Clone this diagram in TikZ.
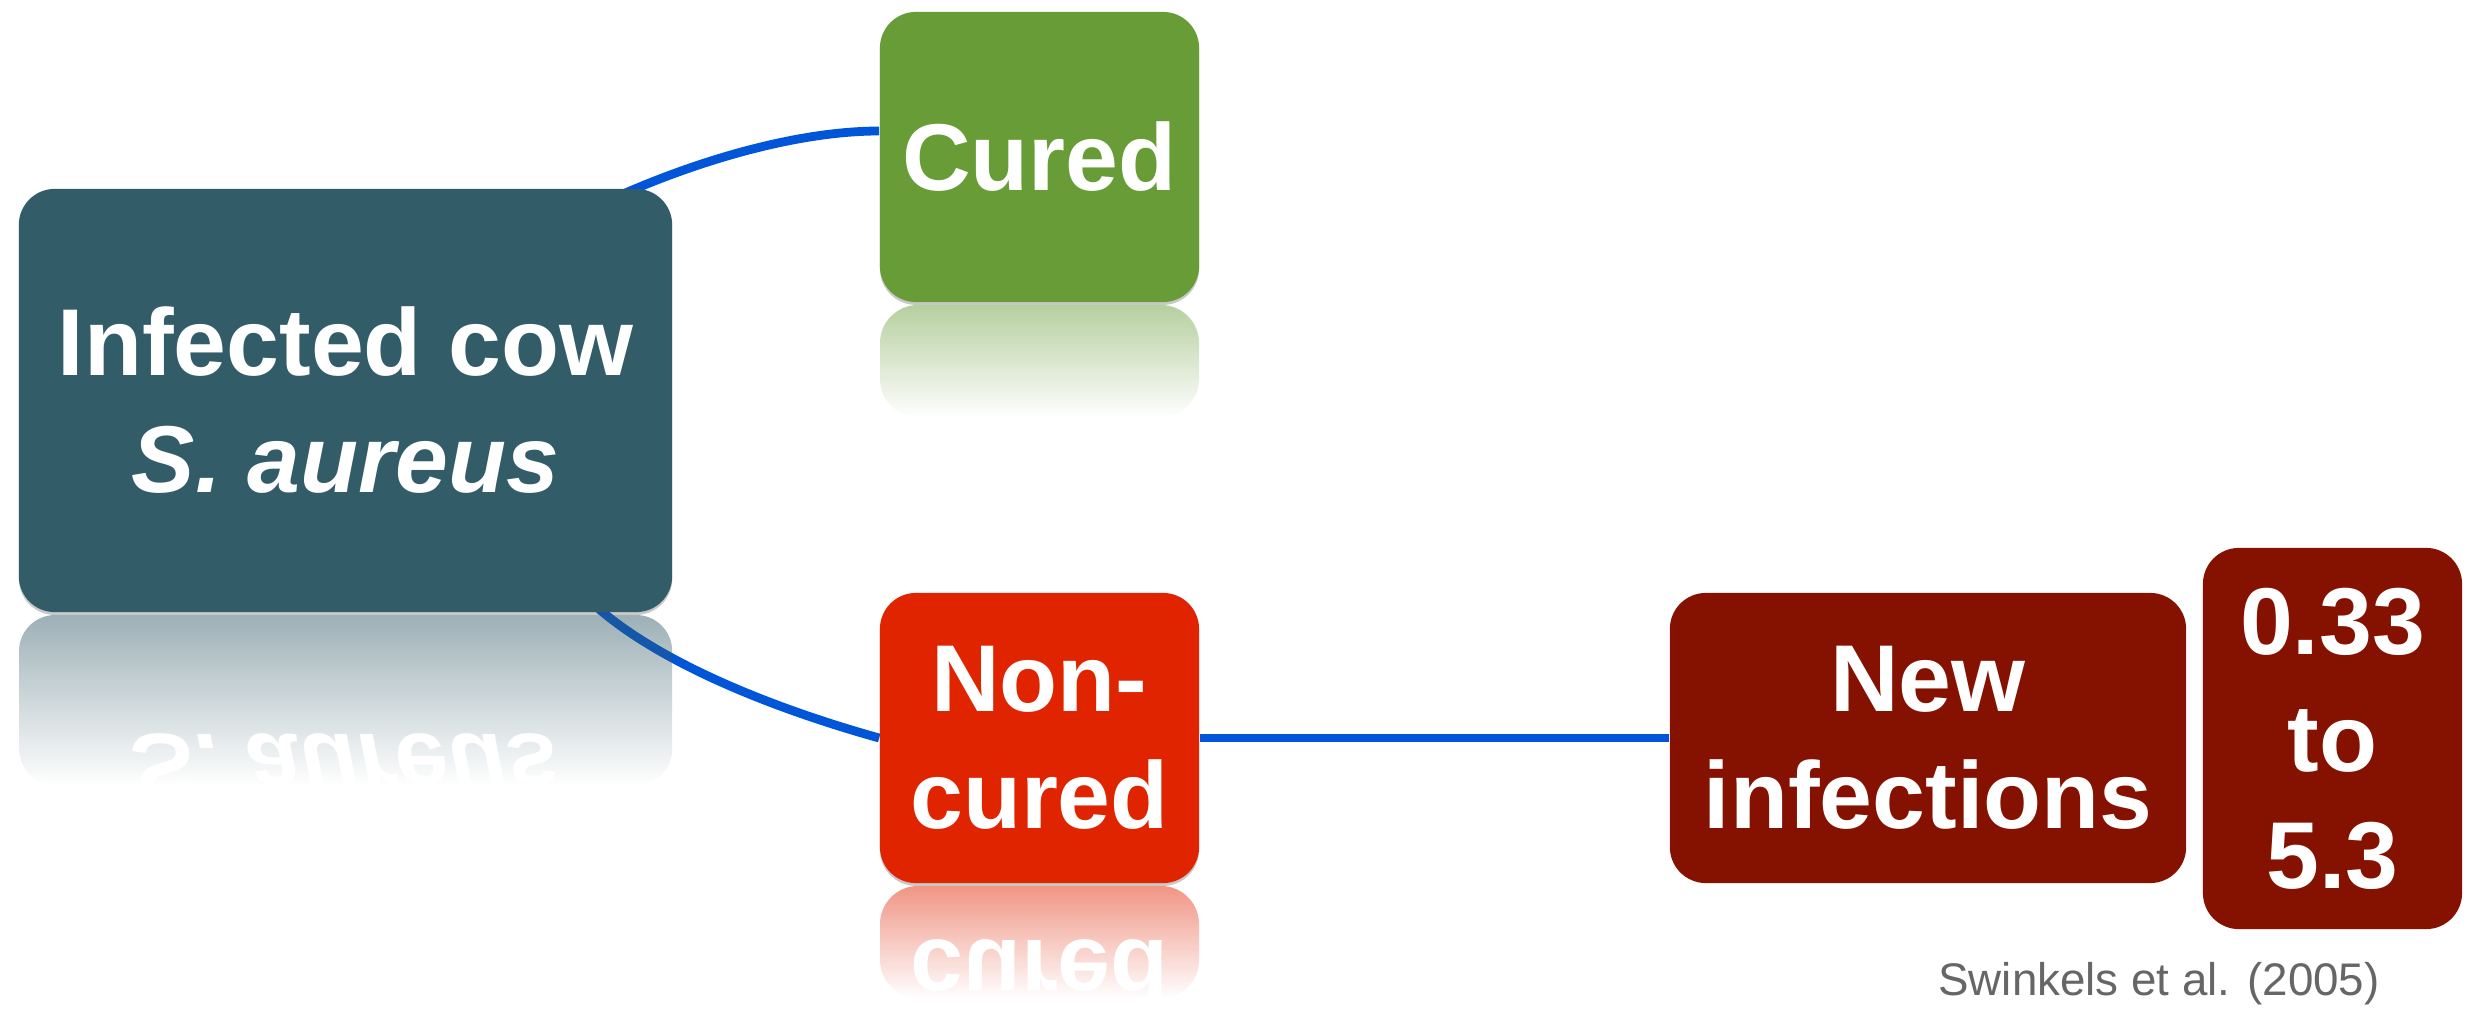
\documentclass[tikz,border=0pt]{standalone}
\usepackage{fontspec}
\setmainfont{Liberation Sans}
\usetikzlibrary{fadings,shadows,backgrounds}
\definecolor{cowc}{HTML}{335C69}
\definecolor{curedc}{HTML}{679C37}
\definecolor{noncuredc}{HTML}{E12400}
\definecolor{newc}{HTML}{851100}
\definecolor{linkc}{HTML}{0055D8}
\definecolor{citec}{HTML}{666666}
\tikzfading[name=reflfade, top color=transparent!52, bottom color=transparent!100]
\tikzset{
  boxtext/.style={inner sep=0pt, align=center, text=white,
    font=\bfseries\fontsize{27}{33.3}\selectfont},
  box/.style={boxtext, rounded corners=0.36cm},
  shadowed/.style={drop shadow={shadow xshift=0pt, shadow yshift=-0.8pt, opacity=0.3, fill=black!70}},
  link/.style={draw=linkc, line width=2.5pt},
}
\begin{document}
\begin{tikzpicture}[x=0.01cm, y=-0.01cm]
\useasboundingbox (0,0) rectangle (2474,1009);
% main boxes
\node[box, shadowed, fill=cowc, minimum width=6.53cm, minimum height=4.23cm] (infected) at (345.5,400.5) {Infected cow\\\textit{S. aureus}};
\node[box, shadowed, fill=curedc, minimum width=3.19cm, minimum height=2.9cm] (cured) at (1039.5,157) {Cured};
\node[box, shadowed, fill=noncuredc, minimum width=3.19cm, minimum height=2.9cm] (noncured) at (1039.5,738) {Non-\\cured};
\node[box, fill=newc, minimum width=5.16cm, minimum height=2.9cm] (newinf) at (1928,738) {New\\infections};
\node[box, fill=newc, minimum width=2.59cm, minimum height=3.81cm] (value) at (2332.5,738.5) {0.33\\to\\5.3};
\node[anchor=base, text=citec, font=\fontsize{13}{15}\selectfont, inner sep=0pt] (cite) at (2159,995) {Swinkels et al. (2005)};
\begin{pgfonlayer}{background}
\fill[white] (0,0) rectangle (2474,1009);
% connectors
\draw[link] ([shift={(-57,9)}]infected.north east) .. controls +(85,-38) and +(-80,0) .. ([shift={(0,-26)}]cured.west);
\draw[link] ([shift={(-82,-11)}]infected.south east) .. controls +(70,65) and +(-90,-25) .. (noncured.west);
\draw[link] (noncured.east) -- (newinf.west);
% reflections
\begin{scope}
  \clip (19,615) rectangle (672,785);
  \fill[cowc, path fading=reflfade, rounded corners=0.36cm] (19,785) -- (19,615) -- (672,615) -- (672,785) -- cycle;
  \node[boxtext, yscale=-1, transform shape, minimum width=6.53cm, minimum height=4.23cm] (infectedR) at (345.5,826.5) {Infected cow\\\textit{S. aureus}};
\end{scope}
\begin{scope}
  \clip (880,305) rectangle (1199,417);
  \fill[curedc, path fading=reflfade, rounded corners=0.38cm] (880,417) -- (880,305) -- (1199,305) -- (1199,417) -- cycle;
  \node[boxtext, yscale=-1, transform shape, minimum width=3.19cm, minimum height=2.9cm] (curedR) at (1039.5,450) {Cured};
\end{scope}
\begin{scope}
  \clip (880,886) rectangle (1199,998);
  \fill[noncuredc, path fading=reflfade, rounded corners=0.38cm] (880,998) -- (880,886) -- (1199,886) -- (1199,998) -- cycle;
  \node[boxtext, yscale=-1, transform shape, minimum width=3.19cm, minimum height=2.9cm] (noncuredR) at (1039.5,1031) {Non-\\cured};
\end{scope}
\end{pgfonlayer}
\end{tikzpicture}
\end{document}
